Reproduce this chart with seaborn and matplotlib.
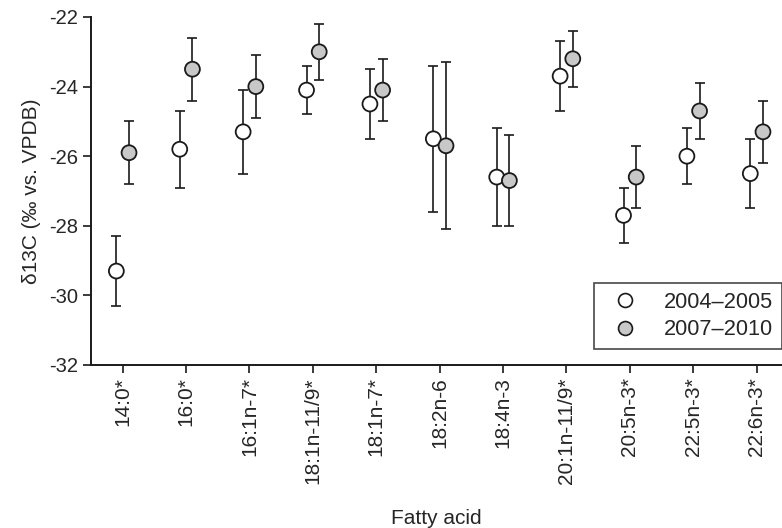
import numpy as np
import pandas as pd
import matplotlib
matplotlib.use("Agg")
import matplotlib.pyplot as plt
import seaborn as sns
from matplotlib.lines import Line2D

categories = ["14:0*", "16:0*", "16:1n-7*", "18:1n-11/9*", "18:1n-7*", "18:2n-6",
              "18:4n-3", "20:1n-11/9*", "20:5n-3*", "22:5n-3*", "22:6n-3*"]
mean_0405 = [-29.3, -25.8, -25.3, -24.1, -24.5, -25.5, -26.6, -23.7, -27.7, -26.0, -26.5]
err_0405 = [1.0, 1.1, 1.2, 0.7, 1.0, 2.1, 1.4, 1.0, 0.8, 0.8, 1.0]
mean_0710 = [-25.9, -23.5, -24.0, -23.0, -24.1, -25.7, -26.7, -23.2, -26.6, -24.7, -25.3]
err_0710 = [0.9, 0.9, 0.9, 0.8, 0.9, 2.4, 1.3, 0.8, 0.9, 0.8, 0.9]
periods = ["2004\u20132005", "2007\u20132010"]
yticks = [-32, -30, -28, -26, -24, -22]

sns.set_style("ticks")
plt.rcParams['font.family'] = ['Liberation Sans', 'DejaVu Sans']

rows = []
for i, c in enumerate(categories):
    rows.append(dict(cat=c, idx=i, period=periods[0], mean=mean_0405[i], err=err_0405[i]))
    rows.append(dict(cat=c, idx=i, period=periods[1], mean=mean_0710[i], err=err_0710[i]))
df = pd.DataFrame(rows)
offsets = {periods[0]: -0.1, periods[1]: 0.1}
df["x"] = df["idx"] + df["period"].map(offsets)

fig = plt.figure(figsize=(7.82, 5.28), dpi=100)
ax = fig.add_axes([91/782, (528-365)/528, (782-91)/782, 348/528])

colors = {periods[0]: "white", periods[1]: "#c8c8c8"}
for p in periods:
    sub = df[df["period"] == p]
    ax.errorbar(sub["x"], sub["mean"], yerr=sub["err"], fmt="none", ecolor="#1a1a1a",
                elinewidth=1.2, capsize=3.5, capthick=1.2, zorder=2)

sns.scatterplot(data=df, x="x", y="mean", hue="period", palette=colors, s=115,
                edgecolor="#1a1a1a", linewidth=1.3, ax=ax, legend=False, zorder=3)

ax.set_xlim(-0.5, 10.4)
ax.set_ylim(-32, -22)
ax.set_yticks(yticks)
ax.set_yticklabels([str(t) for t in yticks], fontsize=14.5)
ax.set_xticks(range(len(categories)))
ax.set_xticklabels(categories, rotation=90, fontsize=15)
ax.tick_params(axis="both", direction="out", length=6, width=1.2, color="#1a1a1a", pad=3)
for s in ["top", "right"]:
    ax.spines[s].set_visible(False)
for s in ["left", "bottom"]:
    ax.spines[s].set_linewidth(1.4)
    ax.spines[s].set_color("#1a1a1a")

ax.set_xlabel("Fatty acid", fontsize=15)
ax.xaxis.set_label_coords(0.5, -0.415)
ax.set_ylabel("\u03b413C (\u2030 vs. VPDB)", fontsize=15, labelpad=6)

handles = [Line2D([], [], marker="o", linestyle="none", markersize=10,
                  markerfacecolor=colors[p], markeredgecolor="#1a1a1a", markeredgewidth=1.2)
           for p in periods]
leg = ax.legend(handles, periods, loc="lower right", bbox_to_anchor=(1.0, 0.046),
                fontsize=15.7, frameon=True, fancybox=False, handletextpad=0.8,
                borderpad=0.4, labelspacing=0.3, borderaxespad=0)
leg.get_frame().set_edgecolor("#1a1a1a")
leg.get_frame().set_linewidth(1.2)

fig.savefig("out.png", dpi=100)
